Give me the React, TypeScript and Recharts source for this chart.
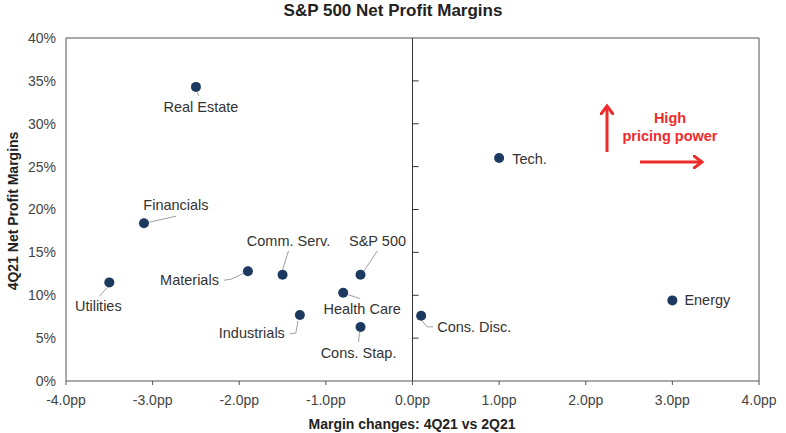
import { ScatterChart, Scatter, XAxis, YAxis, ReferenceLine } from 'recharts'

const sectors = ['Real Estate', 'Financials', 'Utilities', 'Materials', 'Comm. Serv.', 'S&P 500', 'Health Care', 'Industrials', 'Cons. Stap.', 'Cons. Disc.', 'Tech.', 'Energy']
const marginChange = [-2.5, -3.1, -3.5, -1.9, -1.5, -0.6, -0.8, -1.3, -0.6, 0.1, 1.0, 3.0]
const netMargin = [34.3, 18.4, 11.5, 12.8, 12.4, 12.4, 10.3, 7.7, 6.3, 7.6, 26.0, 9.4]

const xTicks = [-4, -3, -2, -1, 0, 1, 2, 3, 4]
const yTicks = [0, 5, 10, 15, 20, 25, 30, 35, 40]

// label placement relative to each dot (pixels)
const labelLayout: Record<string, { dx: number; dy: number; anchor: 'start' | 'middle' | 'end'; lead?: number[][] }> = {
  'Real Estate': { dx: 5, dy: 25, anchor: 'middle', lead: [[1, 5], [3, 9]] },
  Financials: { dx: 32, dy: -13, anchor: 'middle', lead: [[5, -1], [32, -7]] },
  Utilities: { dx: -11, dy: 29, anchor: 'middle', lead: [[-2, 5], [-10, 14]] },
  Materials: { dx: -29, dy: 14, anchor: 'end', lead: [[-4, 2], [-17, 8], [-24, 9]] },
  'Comm. Serv.': { dx: 6, dy: -29, anchor: 'middle', lead: [[0, -5], [6, -24]] },
  'S&P 500': { dx: 17, dy: -29, anchor: 'middle', lead: [[3, -3], [17, -24]] },
  'Health Care': { dx: 19, dy: 21, anchor: 'middle', lead: [[5, 2], [17, 6]] },
  Industrials: { dx: -15, dy: 23, anchor: 'end', lead: [[-2, 6], [-4, 18], [-10, 19]] },
  'Cons. Stap.': { dx: -2, dy: 31, anchor: 'middle', lead: [[-1, 5], [-2, 15]] },
  'Cons. Disc.': { dx: 16, dy: 16, anchor: 'start', lead: [[0, 4], [6, 11], [12, 11]] },
  'Tech.': { dx: 13, dy: 6, anchor: 'start' },
  Energy: { dx: 12, dy: 5, anchor: 'start' },
}

const data = sectors.map((name, i) => ({ name, x: marginChange[i], y: netMargin[i] }))

const FONT = 'Arial, "Liberation Sans", sans-serif'
const RED = '#ee2b2b'

function SectorDot(props: any) {
  const { cx, cy, payload } = props
  const l = labelLayout[payload.name]
  return (
    <g>
      {l.lead && (
        <polyline
          points={l.lead.map(p => `${cx + p[0]},${cy + p[1]}`).join(' ')}
          fill="none"
          stroke="#a0a0a0"
          strokeWidth={1}
        />
      )}
      <circle cx={cx} cy={cy} r={5} fill="#1c3a60" />
      <text x={cx + l.dx} y={cy + l.dy} textAnchor={l.anchor} fontSize={14.5} fill="#333" fontFamily={FONT}>
        {payload.name}
      </text>
    </g>
  )
}

export default function App() {
  return (
    <div style={{ position: 'absolute', left: 0, top: 0, background: '#fff' }}>
      <ScatterChart width={786} height={433} margin={{ top: 38, right: 27, left: 0, bottom: 0 }}>
        <XAxis
          type="number"
          dataKey="x"
          domain={[-4, 4]}
          ticks={xTicks}
          tickFormatter={(v: number) => `${v.toFixed(1)}pp`}
          height={52}
          tickSize={4}
          tickMargin={10}
          stroke="#555"
          tick={{ fontSize: 14, fill: '#444', fontFamily: FONT }}
        />
        <YAxis
          type="number"
          dataKey="y"
          domain={[0, 40]}
          ticks={yTicks}
          tickFormatter={(v: number) => `${v}%`}
          width={66}
          tickLine={false}
          tickSize={0}
          tickMargin={10}
          stroke="#555"
          tick={{ fontSize: 14, fill: '#444', fontFamily: FONT }}
        />
        <ReferenceLine y={40} stroke="#555" />
        <ReferenceLine x={4} stroke="#555" />
        <ReferenceLine x={0} stroke="#333" />
        {yTicks.slice(1, -1).map(t => (
          <ReferenceLine key={t} segment={[{ x: 0, y: t }, { x: 0.07, y: t }]} stroke="#333" />
        ))}
        <Scatter data={data} shape={SectorDot} isAnimationActive={false} />

        <text x={393} y={16} textAnchor="middle" fontSize={17} fontWeight="bold" fill="#222" fontFamily={FONT}>
          S&amp;P 500 Net Profit Margins
        </text>
        <text x={412} y={429} textAnchor="middle" fontSize={14} fontWeight="bold" fill="#222" fontFamily={FONT}>
          Margin changes: 4Q21 vs 2Q21
        </text>
        <text
          x={18}
          y={211}
          textAnchor="middle"
          fontSize={14}
          fontWeight="bold"
          fill="#222"
          fontFamily={FONT}
          transform="rotate(-90 18 211)"
        >
          4Q21 Net Profit Margins
        </text>

        <defs>
          <marker id="redHead" markerWidth="12" markerHeight="14" refX="9" refY="7" orient="auto" markerUnits="userSpaceOnUse">
            <path d="M1,1 L9,7 L1,13" fill="none" stroke={RED} strokeWidth={3} strokeLinecap="round" />
          </marker>
        </defs>
        <line x1={607} y1={152} x2={607} y2={106} stroke={RED} strokeWidth={3} markerEnd="url(#redHead)" />
        <line x1={640} y1={162} x2={702} y2={162} stroke={RED} strokeWidth={3} markerEnd="url(#redHead)" />
        <text x={670} y={123} textAnchor="middle" fontSize={14.5} fontWeight="bold" fill={RED} fontFamily={FONT}>
          High
        </text>
        <text x={670} y={141} textAnchor="middle" fontSize={14.5} fontWeight="bold" fill={RED} fontFamily={FONT}>
          pricing power
        </text>
      </ScatterChart>
    </div>
  )
}
